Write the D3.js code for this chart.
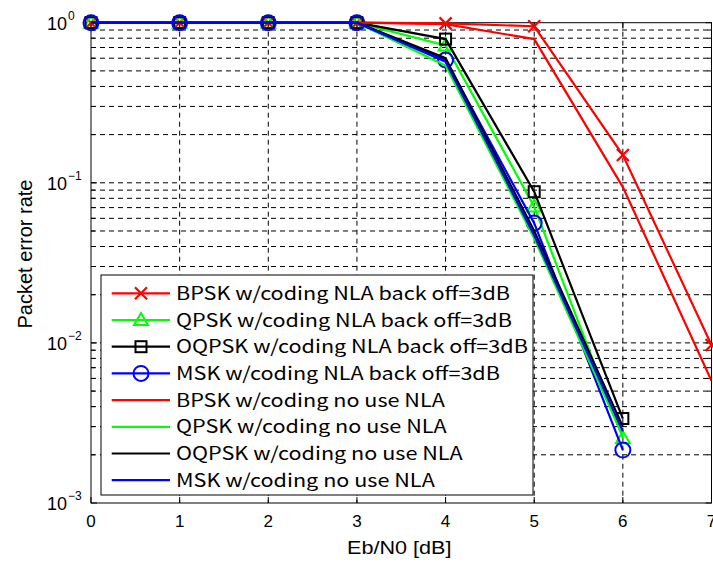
<!DOCTYPE html>
<html lang="en">
<head>
  <meta charset="UTF-8">
  <title>Packet error rate vs Eb/N0</title>
  <script src="https://d3js.org/d3.v7.min.js"></script>
  <style>
    body { margin: 0; background: #fff; }
    .tick-label { font: 17px "Liberation Sans", Arial, sans-serif; fill: #000; }
    .axis-title { font: 18px "Liberation Sans", Arial, sans-serif; fill: #000; }
    .legend text { font: 18px "Noto Sans CJK JP", sans-serif; fill: #000; }
    .grid line { stroke: #000; stroke-width: 1; stroke-dasharray: 5,4; }
  </style>
</head>
<body>
  <svg id="chart" width="713" height="562"></svg>
  <script>
    // x values (Eb/N0 in dB)
    const ebn0 = [0, 1, 2, 3, 4, 5, 6, 7];

    // packet error rate
    const bpskNla  = [1, 1, 1, 1, 0.99, 0.95, 0.149, 0.0097];
    const qpskNla  = [1, 1, 1, 1, 0.72, 0.071, 0.00254];
    const oqpskNla = [1, 1, 1, 1, 0.79, 0.088, 0.00337];
    const mskNla   = [1, 1, 1, 1, 0.585, 0.056, 0.00214];
    const bpskNo   = [1, 1, 1, 1, 0.98, 0.79, 0.094, 0.0058];
    const qpskNo   = [1, 1, 1, 1, 0.54, 0.045, 0.0026];
    const oqpskNo  = [1, 1, 1, 1, 0.60, 0.050, 0.0030];
    const mskNo    = [1, 1, 1, 1, 0.57, 0.047, 0.0028];

    const xTicks = [0, 1, 2, 3, 4, 5, 6, 7];
    const yTicks = [1e-3, 1e-2, 1e-1, 1];
    const yTickExp = ["\u22123", "\u22122", "\u22121", "0"];

    const series = [
      { name: "BPSK w/coding NLA back off=3dB",  values: bpskNla,  color: "#ff0000", marker: "x" },
      { name: "QPSK w/coding NLA back off=3dB",  values: qpskNla,  color: "#00ff00", marker: "triangle" },
      { name: "OQPSK w/coding NLA back off=3dB", values: oqpskNla, color: "#000000", marker: "square" },
      { name: "MSK w/coding NLA back off=3dB",   values: mskNla,   color: "#0000ff", marker: "circle" },
      { name: "BPSK w/coding no use NLA",  values: bpskNo,  color: "#ff0000", marker: null },
      { name: "QPSK w/coding no use NLA",  values: qpskNo,  color: "#00ff00", marker: null },
      { name: "OQPSK w/coding no use NLA", values: oqpskNo, color: "#000000", marker: null },
      { name: "MSK w/coding no use NLA",   values: mskNo,   color: "#0000ff", marker: null }
    ];

    const pLeft = 91, pRight = 711.5, pTop = 22.7, pBottom = 503;

    const x = d3.scaleLinear().domain([0, 7]).range([pLeft, pRight]);
    const y = d3.scaleLog().domain([1e-3, 1]).range([pBottom, pTop]);

    const svg = d3.select("#chart");

    // minor + major grid
    const minorY = [];
    [1e-3, 1e-2, 1e-1].forEach(d => { for (let k = 2; k <= 9; k++) minorY.push(d * k); });

    const grid = svg.append("g").attr("class", "grid");
    grid.selectAll(".gx").data(xTicks.slice(1, -1)).enter().append("line")
      .attr("x1", d => x(d)).attr("x2", d => x(d))
      .attr("y1", pTop).attr("y2", pBottom);
    grid.selectAll(".gy").data(minorY.concat([1e-2, 1e-1])).enter().append("line")
      .attr("x1", pLeft).attr("x2", pRight)
      .attr("y1", d => y(d)).attr("y2", d => y(d));

    // axes box with inner ticks
    const axes = svg.append("g").attr("stroke", "#000").attr("stroke-width", 1);
    axes.append("rect")
      .attr("x", pLeft).attr("y", pTop)
      .attr("width", pRight - pLeft).attr("height", pBottom - pTop)
      .attr("fill", "none");

    xTicks.forEach(d => {
      axes.append("line").attr("x1", x(d)).attr("x2", x(d)).attr("y1", pBottom).attr("y2", pBottom - 6);
      axes.append("line").attr("x1", x(d)).attr("x2", x(d)).attr("y1", pTop).attr("y2", pTop + 6);
    });
    yTicks.concat(minorY).forEach(d => {
      const len = yTicks.includes(d) ? 6 : 4;
      axes.append("line").attr("x1", pLeft).attr("x2", pLeft + len).attr("y1", y(d)).attr("y2", y(d));
      axes.append("line").attr("x1", pRight).attr("x2", pRight - len).attr("y1", y(d)).attr("y2", y(d));
    });

    // tick labels
    svg.append("g").selectAll("text").data(xTicks).enter().append("text")
      .attr("class", "tick-label")
      .attr("x", d => x(d))
      .attr("y", pBottom + 24)
      .attr("text-anchor", "middle")
      .text(d => d);

    const yl = svg.append("g").selectAll("g").data(yTicks).enter().append("g")
      .attr("transform", d => `translate(0,${y(d)})`);
    yl.append("text")
      .attr("class", "tick-label")
      .attr("x", 67).attr("y", 7)
      .attr("text-anchor", "end")
      .style("font-size", "18px")
      .text("10");
    yl.append("text")
      .attr("class", "tick-label")
      .attr("x", 68).attr("y", -3)
      .style("font-size", "12px")
      .text((d, i) => yTickExp[i]);

    // axis titles (the source figure is stretched a little horizontally)
    svg.append("text")
      .attr("class", "axis-title")
      .attr("transform", `translate(${(pLeft + pRight) / 2 - 2},554) scale(1.2,1)`)
      .attr("text-anchor", "middle")
      .text("Eb/N0 [dB]");
    svg.append("text")
      .attr("class", "axis-title")
      .style("font-size", "20px")
      .attr("transform", `translate(32,254) rotate(-90)`)
      .attr("text-anchor", "middle")
      .text("Packet error rate");

    // markers
    function drawMarker(g, type, color) {
      if (type === "x") {
        g.append("path").attr("d", "M-6,-6L6,6M-6,6L6,-6")
          .attr("stroke", color).attr("stroke-width", 2.2).attr("fill", "none");
      } else if (type === "triangle") {
        g.append("path").attr("d", "M0,-7L7,5L-7,5Z")
          .attr("stroke", color).attr("stroke-width", 2).attr("fill", "none");
      } else if (type === "square") {
        g.append("rect").attr("x", -5.5).attr("y", -5.5).attr("width", 11).attr("height", 11)
          .attr("stroke", color).attr("stroke-width", 2).attr("fill", "none");
      } else if (type === "circle") {
        g.append("circle").attr("r", 7.5)
          .attr("stroke", color).attr("stroke-width", 2).attr("fill", "none");
      }
    }

    const line = d3.line()
      .x((d, i) => x(ebn0[i]))
      .y(d => y(d));

    svg.append("clipPath").attr("id", "clip")
      .append("rect").attr("x", pLeft).attr("y", pTop - 2)
      .attr("width", pRight - pLeft).attr("height", pBottom - pTop + 2);

    series.forEach(s => {
      const g = svg.append("g");
      g.append("path")
        .attr("d", line(s.values))
        .attr("fill", "none")
        .attr("stroke", s.color)
        .attr("stroke-width", 2.2)
        .attr("stroke-linejoin", "miter")
        .attr("clip-path", "url(#clip)");
      if (s.marker) {
        s.values.forEach((v, i) => {
          const m = g.append("g").attr("transform", `translate(${x(ebn0[i])},${y(v)})`);
          drawMarker(m, s.marker, s.color);
        });
      }
    });

    // legend
    const legend = svg.append("g").attr("class", "legend");
    legend.append("rect")
      .attr("x", 101).attr("y", 275)
      .attr("width", 432).attr("height", 220)
      .attr("fill", "#fff").attr("stroke", "#000").attr("stroke-width", 1);

    const item = legend.selectAll(".item").data(series).enter().append("g")
      .attr("transform", (d, i) => `translate(0,${293.3 + i * 26.7})`);
    item.append("line")
      .attr("x1", 111.7).attr("x2", 170)
      .attr("stroke", d => d.color).attr("stroke-width", 2.2);
    item.each(function (d) {
      if (d.marker) {
        const m = d3.select(this).append("g").attr("transform", "translate(141,0)");
        drawMarker(m, d.marker, d.color);
      }
    });
    const labels = item.append("text")
      .attr("transform", "translate(176,6.5)")
      .text(d => d.name);

    // widen legend text so the longest entry spans ~352px like the source
    const w0 = labels.nodes()[2].getComputedTextLength();
    const sx = w0 > 0 ? 352 / w0 : 1.27;
    labels.attr("transform", `translate(176,6.5) scale(${sx},1)`);
  </script>
</body>
</html>
